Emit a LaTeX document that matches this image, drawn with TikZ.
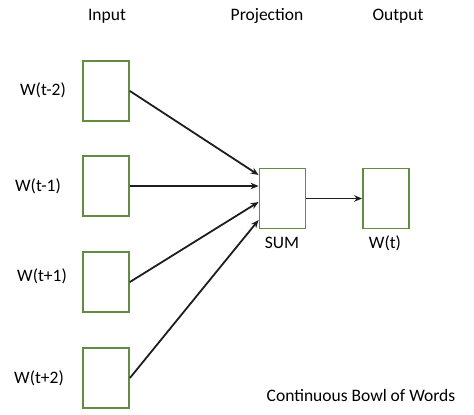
\documentclass[tikz,border=0pt]{standalone}
\usepackage{fontspec}
\setmainfont{Carlito}
\usepackage{xcolor}
\definecolor{cbgreen}{RGB}{98,140,64}
\definecolor{cbblack}{RGB}{30,30,30}
\usetikzlibrary{arrows.meta,positioning}
\tikzset{
  wordbox/.style={draw=cbgreen, line width=1.8pt, fill=white, minimum width=46pt, minimum height=60pt, inner sep=0pt},
  wordlabel/.style={font=\fontsize{17.5}{20}\selectfont, text=black, inner sep=0pt},
  feed/.style={-{Stealth[length=8pt,width=6.5pt]}, line width=1.8pt, cbblack}
}

\begin{document}
\begin{tikzpicture}[x=1pt,y=-1pt]
  \useasboundingbox (0,0) rectangle (474,415);

  %% Column titles
  \node[wordlabel] (tin) at (107,16) {Input};
  \node[wordlabel] (tproj) at (267,16) {Projection};
  \node[wordlabel] (tout) at (398,16) {Output};

  %% Context words
  \node[wordbox] (ctx1) at (106,91) {};
  \node[wordbox] (ctx2) at (106,186) {};
  \node[wordbox] (ctx3) at (106,282) {};
  \node[wordbox] (ctx4) at (106,378) {};
  \node[wordlabel] (lab1) at (43,90) {W(t-2)};
  \node[wordlabel] (lab2) at (38,186) {W(t-1)};
  \node[wordlabel] (lab3) at (42,276) {W(t+1)};
  \node[wordlabel] (lab4) at (39,378) {W(t+2)};

  %% Projection and output
  \node[wordbox] (sum) at (282.5,198.5) {};
  \node[wordbox] (out) at (386,198.5) {};
  \node[wordlabel] (sumlab) at (282,243) {SUM};
  \node[wordlabel] (outlab) at (385,243) {W(t)};

  %% Connections
  \draw[feed] (ctx1.east) -- ([yshift=23.5pt]sum.west);
  \draw[feed] (ctx2.east) -- ([yshift=12.5pt]sum.west);
  \draw[feed] (ctx3.east) -- ([yshift=-3.5pt]sum.west);
  \draw[feed] (ctx4.east) -- ([yshift=-21.5pt]sum.west);
  \draw[feed] (sum.east) -- (out.west);

  \node[wordlabel] (caption) at (361,395) {Continuous Bowl of Words};
\end{tikzpicture}
\end{document}
